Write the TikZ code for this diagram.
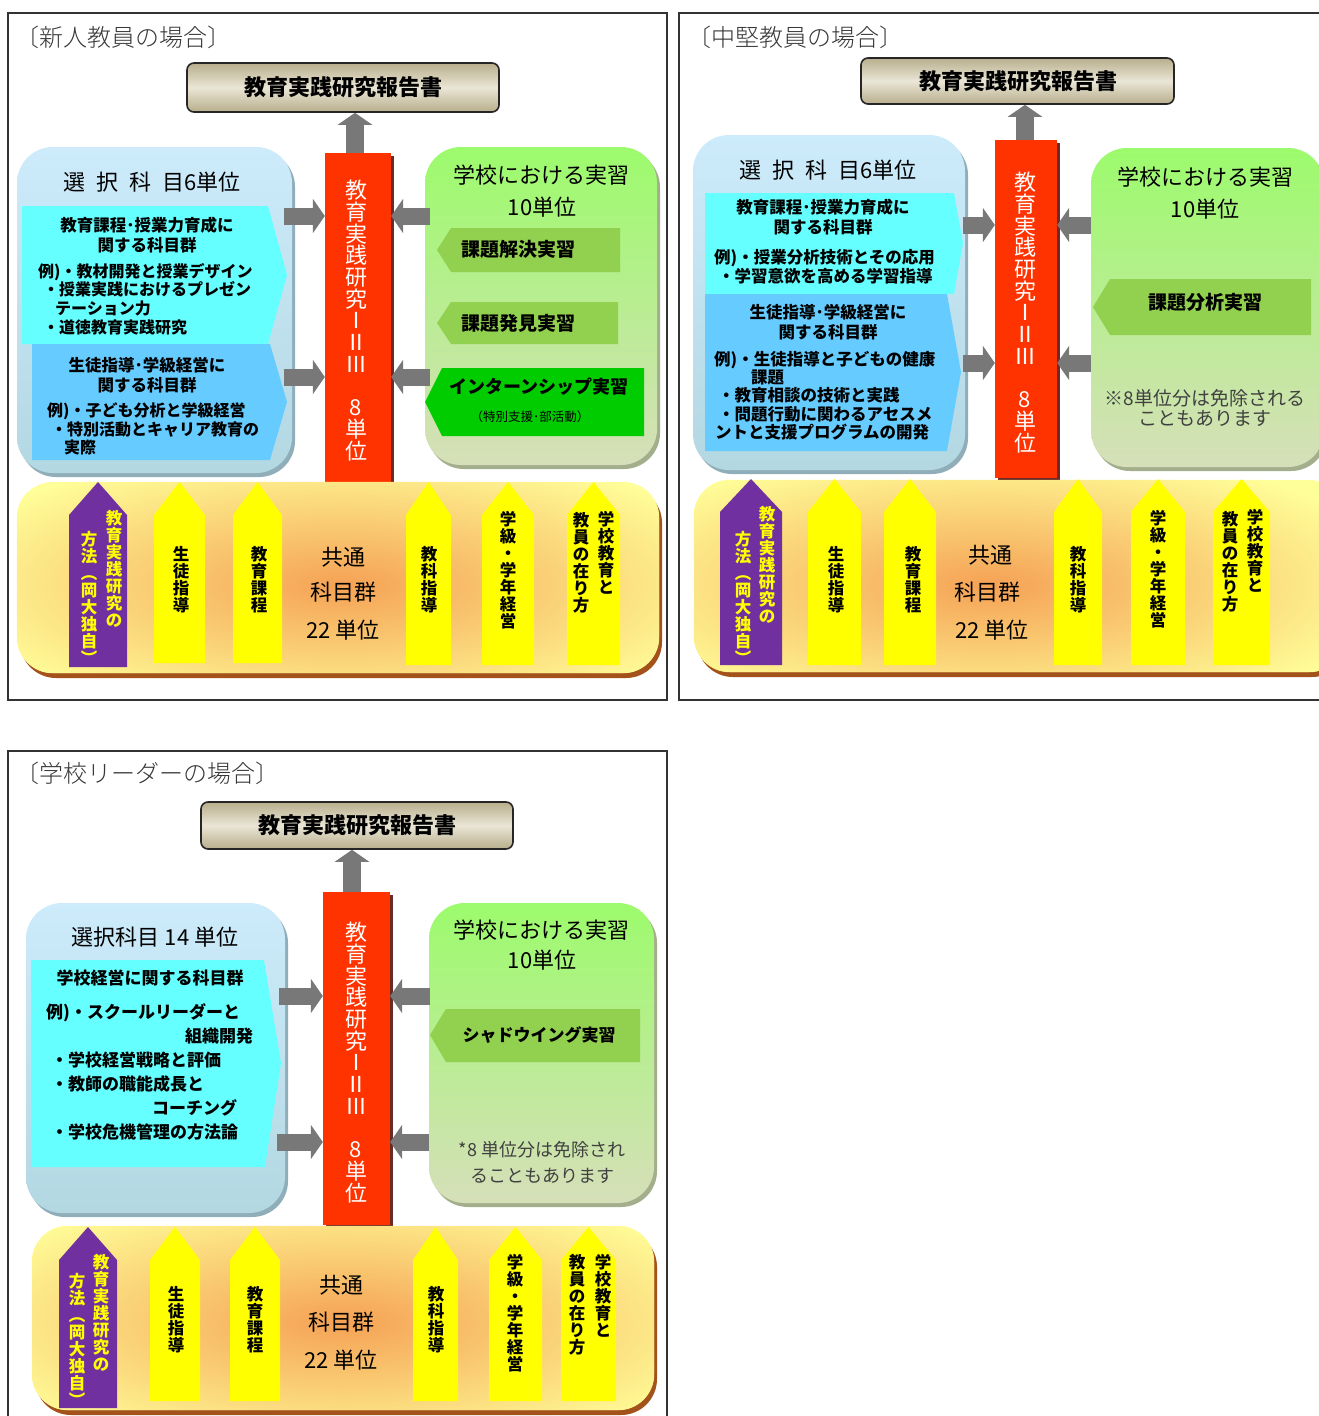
\documentclass[tikz,border=0pt]{standalone}
\usepackage{fontspec}
\setmainfont{Noto Sans CJK JP}
\IfFontExistsTF{Noto Sans CJK JP Light}{\newfontfamily\lightfont{Noto Sans CJK JP Light}}{\newcommand\lightfont{\normalfont}}
\usetikzlibrary{positioning, fit, shadows, arrows.meta}

\definecolor{barred}{HTML}{FF3300}
\definecolor{barshadow}{HTML}{6B2A22}
\definecolor{cyanbox}{HTML}{66FFFF}
\definecolor{bluebox}{HTML}{66CCFF}
\definecolor{olivebox}{HTML}{92D050}
\definecolor{internbox}{HTML}{00CC00}
\definecolor{pencilpurple}{HTML}{7030A0}
\definecolor{pencilyellow}{HTML}{FFFF00}
\definecolor{arrowgray}{HTML}{787878}
\definecolor{lbtop}{HTML}{CDEBFB}
\definecolor{lbbot}{HTML}{B3D8E2}
\definecolor{lbshadow}{HTML}{90AEB9}
\definecolor{rbtop}{HTML}{9CFB6C}
\definecolor{rbbot}{HTML}{D6DFB9}
\definecolor{rbshadow}{HTML}{A3AE8C}
\definecolor{ybfill}{HTML}{FFFF99}
\definecolor{ybglow}{HTML}{F5A255}
\definecolor{ybshadow}{HTML}{A2521A}
\definecolor{repedge}{HTML}{B8AE8C}
\definecolor{repmid}{HTML}{EAE6D6}

\tikzstyle{panelframe} = [draw=black!80, line width=1.5pt]
\tikzstyle{ttl} = [anchor=west, inner sep=0pt, text=black!78, font=\lightfont\fontsize{24}{27}\selectfont]
\tikzstyle{report} = [draw=black!85, line width=1.6pt, rounded corners=7pt, inner sep=0pt, top color=repedge, bottom color=repedge, middle color=repmid]
\tikzstyle{reporttxt} = [inner sep=0pt, font=\bfseries\fontsize{22}{24}\selectfont]
\tikzstyle{leftblob} = [rounded corners=36pt, inner sep=0pt, top color=lbtop, bottom color=lbbot, drop shadow={shadow xshift=3pt, shadow yshift=-4pt, fill=lbshadow, opacity=1}]
\tikzstyle{rightblob} = [rounded corners=36pt, inner sep=0pt, top color=rbtop, bottom color=rbbot, drop shadow={shadow xshift=3pt, shadow yshift=-4pt, fill=rbshadow, opacity=1}]
\tikzstyle{kyotsublob} = [rounded corners=36pt, inner sep=0pt, fill=ybfill, drop shadow={shadow xshift=3pt, shadow yshift=-5pt, fill=ybshadow, opacity=1}]
\tikzstyle{redbar} = [fill=barred, inner sep=0pt, drop shadow={shadow xshift=3pt, shadow yshift=-3pt, fill=barshadow, opacity=1}]
\tikzstyle{bartxt} = [inner sep=0pt, anchor=north, text=white, font=\fontsize{22}{22}\selectfont]
\tikzstyle{garrow} = [draw=arrowgray, line width=17pt, -{Triangle[length=12pt, width=34pt]}]
\tikzstyle{uparrow} = [garrow, line width=18pt]
\tikzstyle{bigtxt} = [inner sep=0pt, font=\fontsize{22}{26}\selectfont]
\tikzstyle{heading} = [inner sep=0pt, align=center, font=\bfseries\fontsize{16.5}{20}\selectfont]
\tikzstyle{extext} = [inner sep=0pt, align=left, anchor=north west, font=\bfseries\fontsize{16}{18.7}\selectfont]
\tikzstyle{boxtxt} = [inner sep=0pt, font=\bfseries\fontsize{19}{22}\selectfont]
\tikzstyle{note} = [inner sep=0pt, align=center, text=black!75, font=\fontsize{18.5}{20}\selectfont]
\tikzstyle{ptxt} = [inner sep=0pt, anchor=north, font=\bfseries\fontsize{16.5}{17}\selectfont]

% vertical text, one character per line
\makeatletter
\newcommand\tate[2][17pt]{\vtop{\baselineskip=#1\lineskiplimit=-100pt\lineskip=0pt\tate@loop#2\relax}}
\newcommand\tate@loop[1]{\ifx\relax#1\else\hbox to 1em{\hss#1\hss}\expandafter\tate@loop\fi}
\makeatother
% pencil: left, right, tip, bottom, colour
\newcommand\pencil[5]{\fill[#5] (#1,#4) -- (#1,{#3+33}) -- ({(#1+#2)/2},#3) -- (#2,{#3+33}) -- (#2,#4) -- cycle;}

\begin{document}
\begin{tikzpicture}[x=1pt, y=-1pt]
\useasboundingbox (0,0) rectangle (1319,1416);

% ---------- 新人教員 ----------
\draw[panelframe] (8,13) rectangle (667,700);
\node[ttl] (ttl1) at (15,37) {〔新人教員の場合〕};
\node[report, fit={(187,63) (499,112)}] (rep1) {};
\node[reporttxt] (rep1t) at (343,87) {教育実践研究報告書};

\node[leftblob, fit={(17,147) (292,473)}] (sel1) {};
\node[bigtxt] (sel1t) at (152,182) {選\hspace{.5em}択\hspace{.5em}科\hspace{.5em}目6単位};
\fill[cyanbox] (22,206) -- (268,206) -- (287,275) -- (268,344) -- (22,344) -- cycle;
\node[heading] (sel1a) at (147,235) {教育課程･授業力育成に\\関する科目群};
\node[extext] (sel1b) at (38,263) {例)・教材開発と授業デザイン\\\hspace{5pt}・授業実践におけるプレゼン\\\hspace{17pt}テーション力\\\hspace{5pt}・道徳教育実践研究};
\fill[bluebox] (32,344) -- (270,344) -- (287,402) -- (270,460) -- (32,460) -- cycle;
\node[heading] (sel1c) at (147,375) {生徒指導･学級経営に\\関する科目群};
\node[extext, font=\bfseries\fontsize{16}{18.5}\selectfont] (sel1d) at (47,403) {例)・子ども分析と学級経営\\\hspace{4pt}・特別活動とキャリア教育の\\\hspace{17pt}実際};

\node[rightblob, fit={(425,147) (657,465)}] (prac1) {};
\node[bigtxt] (prac1t) at (541,175) {学校における実習};
\node[bigtxt] (prac1u) at (542,207) {10単位};
\fill[olivebox] (437,250) -- (451,228) -- (620,228) -- (620,272) -- (451,272) -- cycle;
\node[boxtxt] (prac1a) at (518,249) {課題解決実習};
\fill[olivebox] (437,323) -- (451,302) -- (618,302) -- (618,344) -- (451,344) -- cycle;
\node[boxtxt] (prac1b) at (518,323) {課題発見実習};
\fill[internbox] (425,402) -- (442,368) -- (644,368) -- (644,436) -- (442,436) -- cycle;
\node[boxtxt, font=\bfseries\fontsize{18}{20}\selectfont] (prac1c) at (539,387) {インターンシップ実習};
\node[inner sep=0pt, font=\fontsize{12.5}{14}\selectfont] (prac1d) at (530,417) {（特別支援･部活動）};

\node[redbar, fit={(325,153) (391,487)}] (red1) {};
\node[bartxt] (red1t) at (356,180) {\tate[21.7pt]{教育実践研究ⅠⅡⅢ~8単位}};
\coordinate (in1a) at (284,216);
\coordinate (in1b) at (284,377);
\coordinate (in1c) at (430,216);
\coordinate (in1d) at (430,377);
\draw[garrow] (in1a) -- (in1a -| red1.west);
\draw[garrow] (in1b) -- (in1b -| red1.west);
\draw[garrow] (in1c) -- (in1c -| red1.east);
\draw[garrow] (in1d) -- (in1d -| red1.east);
\coordinate (up1) at (355,153);
\draw[uparrow] (up1) -- (up1 |- rep1.south);

\node[kyotsublob, fit={(17,482) (659,673)}] (com1) {};
\begin{scope}
\clip[rounded corners=36pt] (com1.south west) rectangle (com1.north east);
\shade[inner color=ybglow, outer color=ybfill] (342,585) ellipse [x radius=420pt, y radius=140pt];
\end{scope}
\pencil{69}{127}{482}{667}{pencilpurple}
\pencil{154}{205}{482}{663}{pencilyellow}
\pencil{233}{282}{482}{663}{pencilyellow}
\pencil{406}{451}{482}{665}{pencilyellow}
\pencil{482}{534}{482}{665}{pencilyellow}
\pencil{567}{620}{482}{665}{pencilyellow}
\node[ptxt, text=pencilyellow] (com1a) at (114,510) {\tate{教育実践研究の}};
\node[ptxt, text=pencilyellow] (com1b) at (89,531) {\tate{方法︵岡大独自︶}};
\node[ptxt] (com1c) at (181,546) {\tate{生徒指導}};
\node[ptxt] (com1d) at (259,546) {\tate{教育課程}};
\node[bigtxt] (com1e) at (343,557) {共通};
\node[bigtxt] (com1f) at (343,592) {科目群};
\node[bigtxt] (com1g) at (343,630) {22 単位};
\node[ptxt] (com1h) at (429,546) {\tate{教科指導}};
\node[ptxt] (com1i) at (508,511) {\tate{学級・学年経営}};
\node[ptxt] (com1j) at (606,511) {\tate{学校教育と}};
\node[ptxt] (com1k) at (581,512) {\tate{教員の在り方}};

% ---------- 中堅教員 ----------
\draw[panelframe] (679,13) rectangle (1345,700);
\node[ttl] (ttl2) at (687,37) {〔中堅教員の場合〕};
\node[report, fit={(861,58) (1174,104)}] (rep2) {};
\node[reporttxt] (rep2t) at (1018,81) {教育実践研究報告書};

\node[leftblob, fit={(693,135) (965,470)}] (sel2) {};
\node[bigtxt] (sel2t) at (828,170) {選\hspace{.5em}択\hspace{.5em}科\hspace{.5em}目6単位};
\fill[cyanbox] (705,193) -- (954,193) -- (963,243) -- (954,294) -- (705,294) -- cycle;
\node[heading] (sel2a) at (823,217) {教育課程･授業力育成に\\関する科目群};
\node[extext, font=\bfseries\fontsize{16.5}{19}\selectfont] (sel2b) at (714,249) {例)・授業分析技術とその応用\\\hspace{4pt}・学習意欲を高める学習指導};
\fill[bluebox] (705,294) -- (947,294) -- (961,372) -- (947,451) -- (705,451) -- cycle;
\node[heading] (sel2c) at (828,322) {生徒指導･学級経営に\\関する科目群};
\node[extext, font=\bfseries\fontsize{16.5}{18.3}\selectfont] (sel2d) at (714,351) {例)・生徒指導と子どもの健康\\\hspace{37pt}課題\\\hspace{4pt}・教育相談の技術と実践\\\hspace{4pt}・問題行動に関わるアセスメ\\\hspace{1pt}ントと支援プログラムの開発};

\node[rightblob, fit={(1091,148) (1324,467)}] (prac2) {};
\node[bigtxt] (prac2t) at (1205,177) {学校における実習};
\node[bigtxt] (prac2u) at (1205,209) {10単位};
\fill[olivebox] (1093,307) -- (1110,279) -- (1311,279) -- (1311,335) -- (1110,335) -- cycle;
\node[boxtxt] (prac2a) at (1205,302) {課題分析実習};
\node[note, font=\fontsize{19}{20}\selectfont] (prac2b) at (1205,408) {※8単位分は免除される\\こともあります};

\node[redbar, fit={(995,140) (1057,478)}] (red2) {};
\node[bartxt] (red2t) at (1025,172) {\tate[21.7pt]{教育実践研究ⅠⅡⅢ~8単位}};
\coordinate (in2a) at (963,225);
\coordinate (in2b) at (963,363);
\coordinate (in2c) at (1091,225);
\coordinate (in2d) at (1091,363);
\draw[garrow] (in2a) -- (in2a -| red2.west);
\draw[garrow] (in2b) -- (in2b -| red2.west);
\draw[garrow] (in2c) -- (in2c -| red2.east);
\draw[garrow] (in2d) -- (in2d -| red2.east);
\coordinate (up2) at (1025,140);
\draw[uparrow] (up2) -- (up2 |- rep2.south);

\node[kyotsublob, fit={(694,480) (1345,672)}] (com2) {};
\begin{scope}
\clip[rounded corners=36pt] (com2.south west) rectangle (com2.north east);
\shade[inner color=ybglow, outer color=ybfill] (990,585) ellipse [x radius=420pt, y radius=140pt];
\end{scope}
\pencil{720}{782}{479}{665}{pencilpurple}
\pencil{808}{861}{479}{665}{pencilyellow}
\pencil{884}{936}{479}{665}{pencilyellow}
\pencil{1054}{1102}{479}{665}{pencilyellow}
\pencil{1131}{1185}{479}{665}{pencilyellow}
\pencil{1213}{1270}{479}{665}{pencilyellow}
\node[ptxt, text=pencilyellow] (com2a) at (767,506) {\tate{教育実践研究の}};
\node[ptxt, text=pencilyellow] (com2b) at (743,531) {\tate{方法︵岡大独自︶}};
\node[ptxt] (com2c) at (836,546) {\tate{生徒指導}};
\node[ptxt] (com2d) at (913,546) {\tate{教育課程}};
\node[bigtxt] (com2e) at (990,555) {共通};
\node[bigtxt] (com2f) at (987,592) {科目群};
\node[bigtxt] (com2g) at (992,630) {22 単位};
\node[ptxt] (com2h) at (1078,546) {\tate{教科指導}};
\node[ptxt] (com2i) at (1158,510) {\tate{学級・学年経営}};
\node[ptxt] (com2j) at (1255,509) {\tate{学校教育と}};
\node[ptxt] (com2k) at (1230,511) {\tate{教員の在り方}};

% ---------- 学校リーダー ----------
\draw[panelframe] (8,751) rectangle (667,1440);
\node[ttl] (ttl3) at (15,773) {〔学校リーダーの場合〕};
\node[report, fit={(201,802) (513,849)}] (rep3) {};
\node[reporttxt] (rep3t) at (357,825) {教育実践研究報告書};

\node[leftblob, fit={(26,903) (285,1213)}] (sel3) {};
\node[bigtxt] (sel3t) at (155,937) {選択科目 14 単位};
\fill[cyanbox] (31,960) -- (264,960) -- (281,1063) -- (265,1167) -- (31,1167) -- cycle;
\node[heading, font=\bfseries\fontsize{17}{20}\selectfont] (sel3a) at (150,978) {学校経営に関する科目群};
\node[extext, font=\bfseries\fontsize{17}{24}\selectfont] (sel3b) at (46,1003) {例)・スクールリーダーと\\\hspace{139pt}組織開発\\\hspace{5pt}・学校経営戦略と評価\\\hspace{5pt}・教師の職能成長と\\\hspace{106pt}コーチング\\\hspace{5pt}・学校危機管理の方法論};

\node[rightblob, fit={(429,903) (654,1203)}] (prac3) {};
\node[bigtxt] (prac3t) at (541,930) {学校における実習};
\node[bigtxt] (prac3u) at (542,960) {10単位};
\fill[olivebox] (430,1035) -- (446,1009) -- (640,1009) -- (640,1062) -- (446,1062) -- cycle;
\node[boxtxt, font=\bfseries\fontsize{17}{20}\selectfont] (prac3a) at (539,1035) {シャドウイング実習};
\node[note, font=\fontsize{18}{26}\selectfont] (prac3b) at (542,1162) {*8 単位分は免除され\\ることもあります};

\node[redbar, fit={(323,892) (390,1225)}] (red3) {};
\node[bartxt] (red3t) at (356,922) {\tate[21.7pt]{教育実践研究ⅠⅡⅢ~8単位}};
\coordinate (in3a) at (279,996);
\coordinate (in3b) at (277,1142);
\coordinate (in3c) at (430,996);
\coordinate (in3d) at (429,1142);
\draw[garrow] (in3a) -- (in3a -| red3.west);
\draw[garrow] (in3b) -- (in3b -| red3.west);
\draw[garrow] (in3c) -- (in3c -| red3.east);
\draw[garrow] (in3d) -- (in3d -| red3.east);
\coordinate (up3) at (352,892);
\draw[uparrow] (up3) -- (up3 |- rep3.south);

\node[kyotsublob, fit={(32,1226) (654,1410)}] (com3) {};
\begin{scope}
\clip[rounded corners=36pt] (com3.south west) rectangle (com3.north east);
\shade[inner color=ybglow, outer color=ybfill] (342,1322) ellipse [x radius=420pt, y radius=140pt];
\end{scope}
\pencil{59}{117}{1227}{1408}{pencilpurple}
\pencil{150}{200}{1227}{1401}{pencilyellow}
\pencil{230}{280}{1227}{1401}{pencilyellow}
\pencil{413}{458}{1227}{1401}{pencilyellow}
\pencil{489}{542}{1227}{1401}{pencilyellow}
\pencil{561}{616}{1227}{1401}{pencilyellow}
\node[ptxt, text=pencilyellow] (com3a) at (101,1254) {\tate{教育実践研究の}};
\node[ptxt, text=pencilyellow] (com3b) at (77,1273) {\tate{方法︵岡大独自︶}};
\node[ptxt] (com3c) at (176,1286) {\tate{生徒指導}};
\node[ptxt] (com3d) at (255,1286) {\tate{教育課程}};
\node[bigtxt] (com3e) at (341,1285) {共通};
\node[bigtxt] (com3f) at (341,1322) {科目群};
\node[bigtxt] (com3g) at (341,1360) {22 単位};
\node[ptxt] (com3h) at (436,1286) {\tate{教科指導}};
\node[ptxt] (com3i) at (515,1254) {\tate{学級・学年経営}};
\node[ptxt] (com3j) at (603,1254) {\tate{学校教育と}};
\node[ptxt] (com3k) at (577,1254) {\tate{教員の在り方}};

\end{tikzpicture}
\end{document}
